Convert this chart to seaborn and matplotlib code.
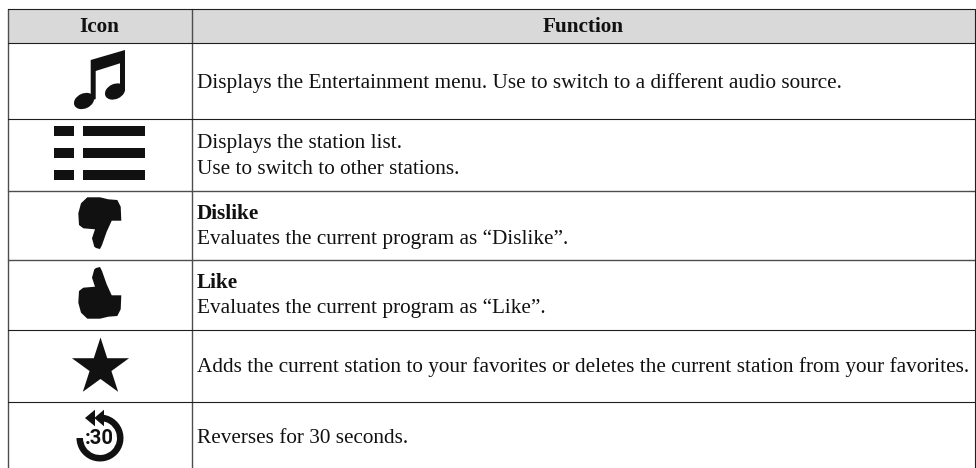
import pandas as pd
import matplotlib.pyplot as plt
import seaborn as sns
from matplotlib.patches import Ellipse, Polygon, Rectangle, Wedge

headers = ['Icon', 'Function']
icons = ['music', 'list', 'dislike', 'like', 'star', 'reverse']
bold_lines = ['', '', 'Dislike', 'Like', '', '']
first_lines = [
    'Displays the Entertainment menu. Use to switch to a different audio source.',
    'Displays the station list.',
    'Evaluates the current program as “Dislike”.',
    'Evaluates the current program as “Like”.',
    'Adds the current station to your favorites or deletes the current station from your favorites.',
    'Reverses for 30 seconds.',
]
second_lines = ['', 'Use to switch to other stations.', '', '', '', '']

# layout in image pixels
LEFT, DIVIDER, RIGHT = 7.5, 192, 975.3
TOP, HEADER_BOTTOM, BOTTOM = 9, 43.3, 468
DARK_ROWS = [119.3, 329.5, 402]
GREY_ROWS = [190.7, 260]
TEXT_X = 196.7
TEXT_SIZE = 15.35
INK = '#111111'
THUMB = [(87.3, 197.3), (100, 197.3), (108.3, 199.3), (117.3, 200), (120.7, 206.7), (121.3, 220.7),
         (111.7, 220.7), (106.7, 231.7), (102, 245), (100, 249), (96, 248), (94.3, 246.7), (92, 238.3),
         (95, 229.3), (83.3, 228.3), (79, 225), (78.3, 213.3), (81, 203.3)]


def draw_rules(ax, rules, color, width):
    """Draws a group of table rules, one line per rule."""
    rows = []
    for i, (x0, y0, x1, y1) in enumerate(rules):
        rows.append({'rule': i, 'x': x0, 'y': y0})
        rows.append({'rule': i, 'x': x1, 'y': y1})
    sns.lineplot(data=pd.DataFrame(rows), x='x', y='y', units='rule', estimator=None,
                 sort=False, color=color, linewidth=width, ax=ax, legend=False, zorder=3)


def draw_music(ax):
    stems = [(90.7, 60), (125, 50), (125, 91), (120, 91), (120, 63.3), (95.7, 71), (95.7, 99), (90.7, 101)]
    ax.add_patch(Polygon(stems, color=INK, lw=0))
    ax.add_patch(Ellipse((84, 101), 21, 15, angle=-25, color=INK, lw=0))
    ax.add_patch(Ellipse((115, 91.5), 21, 15, angle=-25, color=INK, lw=0))


def draw_list(ax):
    for y in (126, 148, 170):
        ax.add_patch(Rectangle((54, y), 20, 10, color=INK, lw=0))
        ax.add_patch(Rectangle((83, y), 62, 10, color=INK, lw=0))


def draw_thumb(ax, flip=False):
    # like icon is the dislike icon mirrored top to bottom
    pts = [(x, 516 - y) if flip else (x, y) for x, y in THUMB]
    ax.add_patch(Polygon(pts, color=INK, lw=0))


def draw_star(ax):
    star = pd.DataFrame({'x': [100], 'y': [367]})
    sns.scatterplot(data=star, x='x', y='y', marker='*', s=1870, color=INK, linewidth=0, ax=ax, legend=False)


def draw_reverse(ax):
    ax.add_patch(Wedge((100, 438), 23.5, -90, 180, width=6.5, color=INK, lw=0))
    ax.add_patch(Polygon([(85, 418), (95, 409.7), (95, 426.3)], color=INK, lw=0))
    ax.add_patch(Polygon([(94.3, 418), (104, 409.7), (104, 426.3)], color=INK, lw=0))
    ax.text(99, 438.5, ':30', family=['Liberation Sans Narrow', 'Roboto'], weight='bold', size=14.5,
            color=INK, ha='center', va='center')


def draw_text(ax):
    header_font = dict(family='Liberation Serif', weight='bold', size=TEXT_SIZE, color=INK, ha='center', va='baseline')
    ax.text(99.5, 32.3, headers[0], **header_font)
    ax.text(583.5, 32.3, headers[1], **header_font)
    font = dict(family='Liberation Serif', size=TEXT_SIZE, color=INK, va='baseline')
    baselines = [(88, None), (148, 174), (244, None), (313, None), (372, None), (442.7, None)]
    bold_baselines = [None, None, 219.3, 288, None, None]
    for i, (first, second) in enumerate(baselines):
        ax.text(TEXT_X, first, first_lines[i], **font)
        if second is not None:
            ax.text(TEXT_X, second, second_lines[i], **font)
        if bold_lines[i]:
            ax.text(TEXT_X, bold_baselines[i], bold_lines[i], weight='bold', **font)


if __name__ == "__main__":
    sns.set_theme(style='white')
    fig = plt.figure(figsize=(9.76, 4.68), dpi=100, facecolor='white')
    ax = fig.add_axes([0, 0, 1, 1])
    ax.add_patch(Rectangle((LEFT, TOP), RIGHT - LEFT, HEADER_BOTTOM - TOP, color='#d9d9d9', lw=0))
    dark = [(LEFT, y, RIGHT, y) for y in [TOP, HEADER_BOTTOM] + DARK_ROWS] + [(RIGHT, TOP, RIGHT, BOTTOM)]
    grey = [(LEFT, y, RIGHT, y) for y in GREY_ROWS] + [(x, TOP, x, BOTTOM) for x in (LEFT, DIVIDER)]
    draw_rules(ax, grey, '#4d4d4d', 1.0)
    draw_rules(ax, dark, '#1f1f1f', 0.8)
    draw_music(ax)
    draw_list(ax)
    draw_thumb(ax)
    draw_thumb(ax, flip=True)
    draw_star(ax)
    draw_reverse(ax)
    draw_text(ax)
    ax.set_xlim(0, 976)
    ax.set_ylim(468, 0)
    ax.axis('off')
    fig.savefig('out.png', dpi=100)
